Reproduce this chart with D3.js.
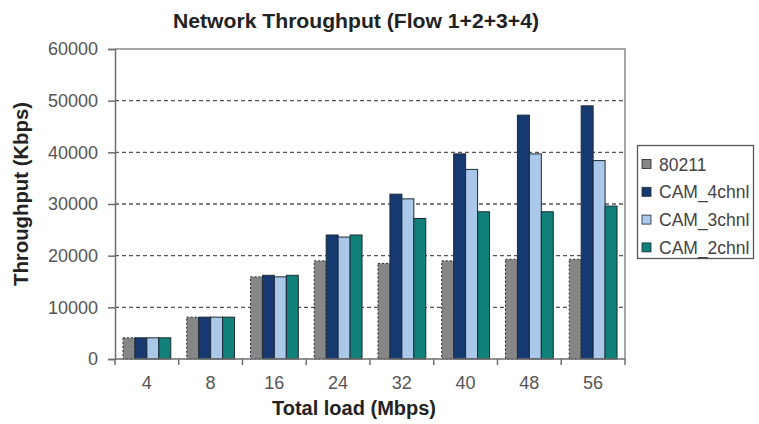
<!DOCTYPE html>
<html>
<head>
<meta charset="UTF-8">
<script src="https://d3js.org/d3.v7.min.js"></script>
<style>
  body { margin: 0; background: #fff; }
  svg { display: block; font-family: 'Liberation Sans', Arial, sans-serif; }
</style>
</head>
<body>
<svg id="chart" width="759" height="424"></svg>
<script>
const loads = ["4", "8", "16", "24", "32", "40", "48", "56"];
const seriesNames = ["80211", "CAM_4chnl", "CAM_3chnl", "CAM_2chnl"];
const s80211 = [4100, 8100, 15900, 19000, 18500, 19000, 19300, 19300];
const cam4 = [4100, 8100, 16200, 24000, 31900, 39700, 47200, 49000];
const cam3 = [4100, 8100, 15900, 23600, 31000, 36700, 39700, 38400];
const cam2 = [4100, 8100, 16200, 24000, 27200, 28500, 28500, 29600];
const yTicks = [0, 10000, 20000, 30000, 40000, 50000, 60000];
const colors = ["#868686", "#163a70", "#a9c8ea", "#108079"];

const allSeries = [s80211, cam4, cam3, cam2];

const svg = d3.select("#chart");
const m = { left: 115, right: 625, top: 49, bottom: 359 };

const x = d3.scaleBand().domain(loads).range([m.left, m.right]).paddingInner(0.25).paddingOuter(0.125);
const xs = d3.scaleBand().domain(seriesNames).range([0, x.bandwidth()]);
const y = d3.scaleLinear().domain([0, 60000]).range([m.bottom, m.top]);

// grid
svg.append("g").selectAll("line")
  .data(yTicks.filter(d => d > 0 && d < 60000)).enter().append("line")
  .attr("x1", m.left).attr("x2", m.right)
  .attr("y1", d => y(d)).attr("y2", d => y(d))
  .attr("stroke", "#555").attr("stroke-width", 1.4).attr("stroke-dasharray", "4,3");

// plot frame top + right
svg.append("path")
  .attr("d", `M${m.left},${m.top}H${m.right}V${m.bottom}`)
  .attr("fill", "none").attr("stroke", "#8a8a8a").attr("stroke-width", 1.5);

// bars
const groups = svg.append("g").selectAll("g")
  .data(loads).enter().append("g")
  .attr("transform", d => `translate(${x(d)},0)`);

groups.selectAll("rect")
  .data((d, i) => seriesNames.map((s, k) => ({ s, k, v: allSeries[k][i] })))
  .enter().append("rect")
  .attr("x", d => xs(d.s))
  .attr("width", xs.bandwidth())
  .attr("y", d => y(d.v))
  .attr("height", d => y(0) - y(d.v))
  .attr("fill", d => colors[d.k])
  .attr("stroke", "#1e2a36")
  .attr("stroke-width", 1)
  .attr("stroke-dasharray", d => d.k === 0 ? "2,2" : null);

// y axis
const yAxis = d3.axisLeft(y).tickValues(yTicks).tickSize(7).tickPadding(10).tickFormat(d3.format("d"));
svg.append("g").attr("transform", `translate(${m.left},0)`).call(yAxis)
  .call(g => g.select(".domain").attr("stroke", "#6e6e6e").attr("stroke-width", 1.5))
  .call(g => g.selectAll(".tick line").attr("stroke", "#6e6e6e").attr("stroke-width", 1.5))
  .call(g => g.selectAll("text").attr("font-size", 18).attr("fill", "#555"));

// x axis
const xTickScale = d3.scaleLinear().domain([0, loads.length]).range([m.left, m.right]);
const xg = svg.append("g");
xg.append("line").attr("x1", m.left).attr("x2", m.right).attr("y1", m.bottom).attr("y2", m.bottom)
  .attr("stroke", "#6e6e6e").attr("stroke-width", 1.5);
xg.selectAll(".xt").data(d3.range(loads.length + 1)).enter().append("line")
  .attr("x1", d => xTickScale(d)).attr("x2", d => xTickScale(d))
  .attr("y1", m.bottom).attr("y2", m.bottom + 6)
  .attr("stroke", "#6e6e6e").attr("stroke-width", 1.5);
xg.selectAll("text").data(loads).enter().append("text")
  .attr("x", d => x(d) + x.bandwidth() / 2).attr("y", 389)
  .attr("text-anchor", "middle").attr("font-size", 18).attr("fill", "#555")
  .text(d => d);

// titles
svg.append("text").attr("x", 356).attr("y", 28).attr("text-anchor", "middle")
  .attr("font-size", 20).attr("font-weight", "bold").attr("fill", "#222")
  .attr("textLength", 366).attr("lengthAdjust", "spacingAndGlyphs")
  .text("Network Throughput (Flow 1+2+3+4)");
svg.append("text").attr("x", 354).attr("y", 415).attr("text-anchor", "middle")
  .attr("font-size", 20).attr("font-weight", "bold").attr("fill", "#222")
  .text("Total load (Mbps)");
svg.append("text").attr("transform", "translate(28,194) rotate(-90)").attr("text-anchor", "middle")
  .attr("font-size", 20).attr("font-weight", "bold").attr("fill", "#222")
  .attr("textLength", 184).attr("lengthAdjust", "spacingAndGlyphs")
  .text("Throughput (Kbps)");

// legend
const lg = svg.append("g");
lg.append("rect").attr("x", 637.5).attr("y", 145.5).attr("width", 116).attr("height", 113)
  .attr("fill", "#fff").attr("stroke", "#555").attr("stroke-width", 1.3);
const items = lg.selectAll(".li").data(seriesNames).enter().append("g")
  .attr("transform", (d, i) => `translate(642,${164 + i * 27.8})`);
items.append("rect").attr("x", 0).attr("y", -4.5).attr("width", 9).attr("height", 9)
  .attr("fill", (d, i) => colors[i]).attr("stroke", "#1e2a36").attr("stroke-width", 0.8);
items.append("text").attr("x", 17).attr("y", 6.5).attr("font-size", 17.5).attr("fill", "#444")
  .text(d => d);
</script>
</body>
</html>
